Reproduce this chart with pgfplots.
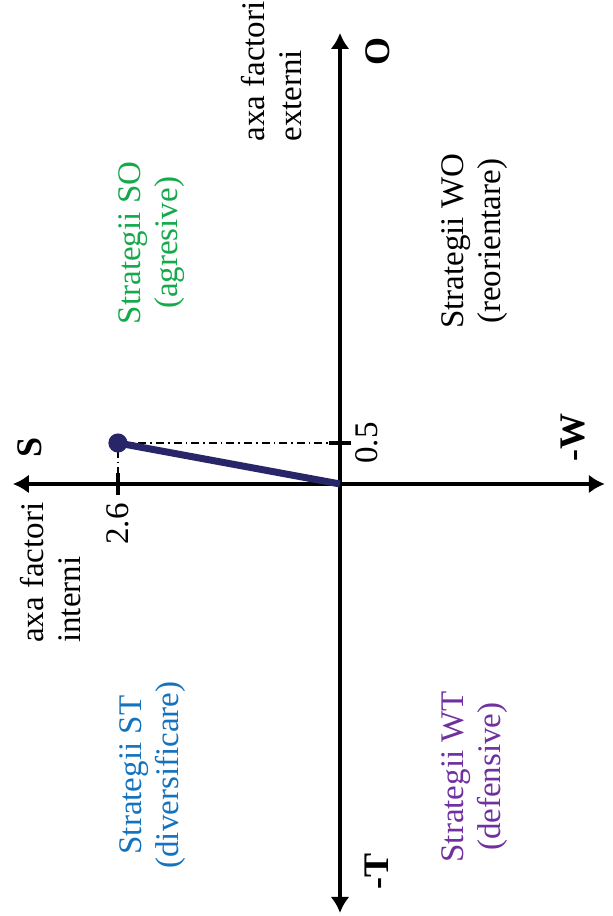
\documentclass[border=0pt]{standalone}
\usepackage{fontspec}
\setmainfont{Liberation Serif}
\usepackage{pgfplots}
\pgfplotsset{compat=1.18}
\usetikzlibrary{arrows.meta}
\definecolor{cNavy}{RGB}{40,38,105}
\definecolor{cSO}{RGB}{20,170,75}
\definecolor{cST}{RGB}{20,115,190}
\definecolor{cWT}{RGB}{112,48,160}
\tikzset{
  lbl/.style={rotate=90, inner sep=0pt, align=center, font=\fontsize{16.5}{18.5}\selectfont},
  pole/.style={rotate=90, inner sep=0pt, font=\fontsize{18}{20}\selectfont\bfseries},
}
\begin{document}
\begin{tikzpicture}
\begin{axis}[
  x=42.7pt, y=41pt, x dir=reverse,
  xmin=-3.10, xmax=3.83, ymin=-5.23, ymax=5.50,
  axis lines*=middle,
  axis line style={black, line width=2.4pt,
    {Latex[length=8pt,width=9.5pt]}-{Latex[length=8pt,width=9.5pt]}},
  xtick={2.6}, ytick={0.5}, xticklabels={}, yticklabels={},
  tick align=center, major tick length=11pt,
  tick style={black, line width=2pt},
  clip=false,
]
% projections of the point on the two axes
\addplot[black, line width=0.6pt, dash pattern=on 4pt off 2pt on 0.8pt off 2pt]
  coordinates {(0,0.5) (2.6,0.5) (2.6,0)};
% resulting strategy vector
\addplot[cNavy, line width=3.5pt, mark=*, mark size=3pt, mark indices={2}]
  coordinates {(0,0) (2.6,0.5)};

\node[lbl, anchor=east] at (axis cs:2.6,-0.232) {2.6};
\node[lbl, anchor=north] at (axis cs:-0.176,0.5) {0.5};

\node[pole] at (axis cs:3.63,0.44) {S};
\node[pole] at (axis cs:-0.445,5.27) {O};
\node[pole] at (axis cs:-2.73,0.57) {-W};
\node[pole] at (axis cs:-0.433,-4.72) {-T};

\node[lbl, align=left, anchor=west] at (axis cs:3.384,-1.94) {axa factori\\interni};
\node[lbl, align=left, anchor=west] at (axis cs:0.796,4.17) {axa factori\\externi};

\node[lbl, text=cSO] at (axis cs:2.20,2.94) {Strategii SO\\(agresive)};
\node[lbl] at (axis cs:-1.58,2.96) {Strategii WO\\(reorientare)};
\node[lbl, text=cST] at (axis cs:2.19,-3.55) {Strategii ST\\(diversificare)};
\node[lbl, text=cWT] at (axis cs:-1.58,-3.57) {Strategii WT\\(defensive)};

\coordinate (bbA) at (axis cs:3.981,5.902);
\coordinate (bbB) at (axis cs:-3.185,-5.268);
\end{axis}
\pgfresetboundingbox
\path (bbA) rectangle (bbB);
\end{tikzpicture}
\end{document}
